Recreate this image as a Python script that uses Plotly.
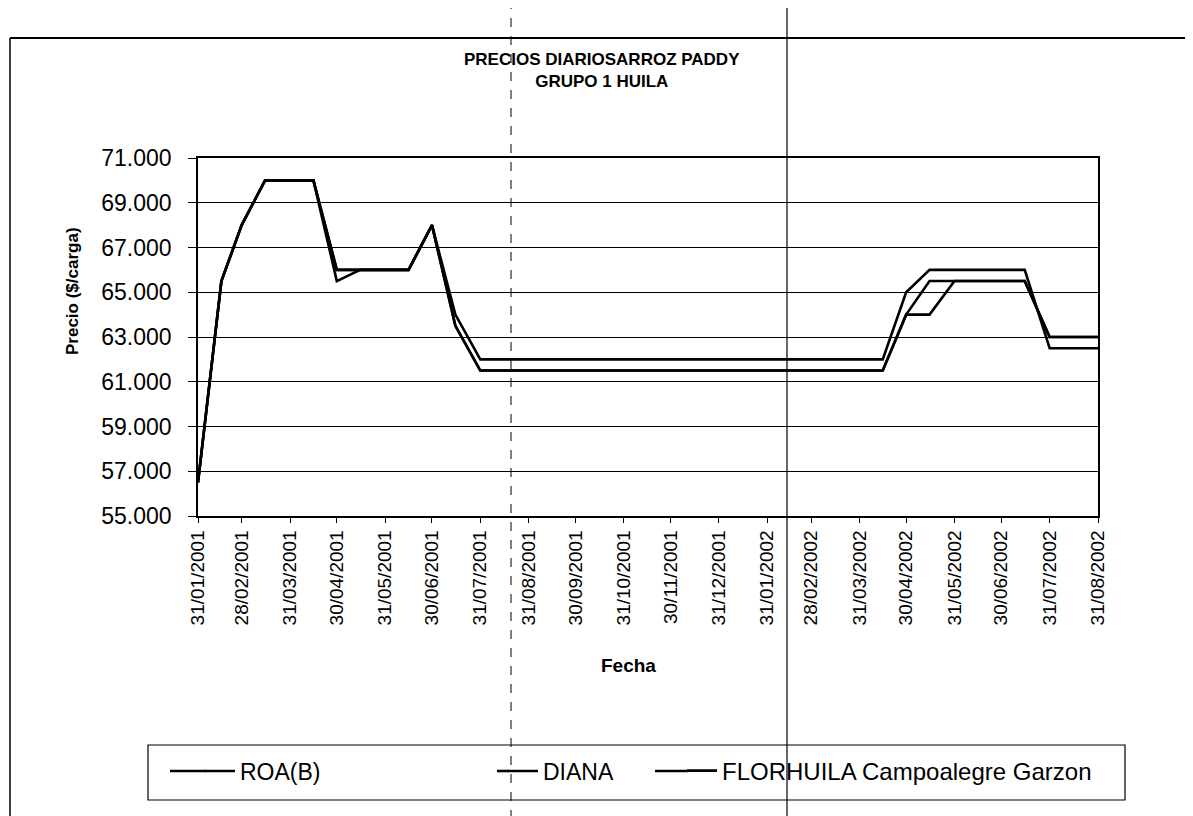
import plotly.graph_objects as go

# ---------------- data ----------------
dates = [
    "2001-01-31", "2001-02-15", "2001-02-28", "2001-03-15", "2001-03-31",
    "2001-04-15", "2001-04-30", "2001-05-15", "2001-05-31", "2001-06-15",
    "2001-06-30", "2001-07-15", "2001-07-31", "2001-08-15", "2001-08-31",
    "2001-09-15", "2001-09-30", "2001-10-15", "2001-10-31", "2001-11-15",
    "2001-11-30", "2001-12-15", "2001-12-31", "2002-01-15", "2002-01-31",
    "2002-02-15", "2002-02-28", "2002-03-15", "2002-03-31", "2002-04-15",
    "2002-04-30", "2002-05-15", "2002-05-31", "2002-06-15", "2002-06-30",
    "2002-07-15", "2002-07-31", "2002-08-15", "2002-08-31",
]

roa_b = [
    56500, 65500, 68000, 70000, 70000, 70000, 66000, 66000, 66000, 66000,
    68000, 64000, 62000, 62000, 62000, 62000, 62000, 62000, 62000, 62000,
    62000, 62000, 62000, 62000, 62000, 62000, 62000, 62000, 62000, 62000,
    65000, 66000, 66000, 66000, 66000, 66000, 62500, 62500, 62500,
]
diana = [
    56500, 65500, 68000, 70000, 70000, 70000, 65500, 66000, 66000, 66000,
    68000, 63500, 61500, 61500, 61500, 61500, 61500, 61500, 61500, 61500,
    61500, 61500, 61500, 61500, 61500, 61500, 61500, 61500, 61500, 61500,
    64000, 65500, 65500, 65500, 65500, 65500, 63000, 63000, 63000,
]
florhuila = [
    56500, 65500, 68000, 70000, 70000, 70000, 66000, 66000, 66000, 66000,
    68000, 63500, 61500, 61500, 61500, 61500, 61500, 61500, 61500, 61500,
    61500, 61500, 61500, 61500, 61500, 61500, 61500, 61500, 61500, 61500,
    64000, 64000, 65500, 65500, 65500, 65500, 63000, 63000, 63000,
]

series_names = ["ROA(B)", "DIANA", "FLORHUILA Campoalegre Garzon"]

tick_dates = [
    "2001-01-31", "2001-02-28", "2001-03-31", "2001-04-30", "2001-05-31",
    "2001-06-30", "2001-07-31", "2001-08-31", "2001-09-30", "2001-10-31",
    "2001-11-30", "2001-12-31", "2002-01-31", "2002-02-28", "2002-03-31",
    "2002-04-30", "2002-05-31", "2002-06-30", "2002-07-31", "2002-08-31",
]
tick_labels = [d[8:10] + "/" + d[5:7] + "/" + d[0:4] for d in tick_dates]

y_ticks = list(range(55000, 71001, 2000))
y_tick_labels = [f"{v // 1000}.{v % 1000:03d}" for v in y_ticks]

title_lines = ["PRECIOS DIARIOSARROZ PADDY", "GRUPO 1 HUILA"]

# ---------------- geometry (page pixels; page body has an 8px margin) ----------------
OFF = 8
W, H = 1193 - OFF, 816 - OFF
PL, PR, PT, PB = 198, 1098, 158, 516          # plot area in page pixels
ML, MT = PL - OFF, PT - OFF
MR, MB = W - (PR - OFF), H - (PB - OFF)
PW, PH = PR - PL, PB - PT


def px_x(px):
    return (px - PL) / PW


def px_y(py):
    return (PB - py) / PH


fig = go.Figure()
legend_ids = ["legend", "legend2", "legend3"]
for name, vals, lg in zip(series_names, [roa_b, diana, florhuila], legend_ids):
    fig.add_trace(go.Scatter(
        x=dates, y=vals, mode="lines", name=name,
        line=dict(color="black", width=2.6),
        legend=lg,
    ))

FONT = "Liberation Sans, Arial, sans-serif"
NARROW = "Liberation Sans Narrow, Arial Narrow, Liberation Sans, sans-serif"


def legend_cfg(x_px, size):
    return dict(
        orientation="h", yanchor="middle", xanchor="left",
        x=px_x(x_px), y=px_y(771),
        font=dict(family=FONT, size=size, color="black"),
        bgcolor="rgba(0,0,0,0)", borderwidth=0, itemwidth=30,
    )


fig.update_layout(
    width=W, height=H,
    margin=dict(l=ML, r=MR, t=MT, b=MB, pad=0),
    paper_bgcolor="white", plot_bgcolor="white",
    showlegend=True,
    legend=legend_cfg(200, 23),
    legend2=legend_cfg(503, 23),
    legend3=legend_cfg(682, 24),
    xaxis=dict(
        type="date",
        range=[tick_dates[0], tick_dates[-1]],
        tickmode="array", tickvals=tick_dates, ticktext=tick_labels,
        tickangle=-90,
        tickfont=dict(family=FONT, size=19, color="black"),
        showgrid=False, zeroline=False,
        showline=True, linecolor="black", linewidth=1.5, mirror=True,
        ticks="outside", ticklen=5, tickcolor="black",
    ),
    yaxis=dict(
        range=[55000, 71000],
        tickmode="array", tickvals=y_ticks, ticktext=y_tick_labels,
        tickfont=dict(family=FONT, size=23, color="black"),
        ticklabelstandoff=12,
        showgrid=True, gridcolor="black", gridwidth=1.3,
        zeroline=False,
        showline=True, linecolor="black", linewidth=1.5, mirror=True,
        ticks="outside", ticklen=8, tickcolor="black",
    ),
    font=dict(family=FONT, color="black"),
)

annotations = [
    dict(text="<b>" + title_lines[0] + "</b><br><b>" + title_lines[1] + "</b>",
         xref="paper", yref="paper", x=px_x(602), y=px_y(70),
         xanchor="center", yanchor="middle", showarrow=False,
         font=dict(family=NARROW, size=17, color="black")),
    dict(text="<b>Precio ($/carga)</b>", textangle=-90,
         xref="paper", yref="paper", x=px_x(72), y=px_y(291),
         xanchor="center", yanchor="middle", showarrow=False,
         font=dict(family=NARROW, size=17, color="black")),
    dict(text="<b>Fecha</b>",
         xref="paper", yref="paper", x=px_x(628), y=px_y(665),
         xanchor="center", yanchor="middle", showarrow=False,
         font=dict(family=NARROW, size=19, color="black")),
]
fig.update_layout(annotations=annotations)

# extensions of the legend line samples (the scan shows longer samples)
legend_sample_spans = [(170, 206), (497, 509), (655, 688)]

shapes = [
    # chart outer frame (top and left edges visible in the scan)
    dict(type="line", xref="paper", yref="paper",
         x0=px_x(10), x1=px_x(1193), y0=px_y(38), y1=px_y(38),
         line=dict(color="black", width=2)),
    dict(type="line", xref="paper", yref="paper",
         x0=px_x(10), x1=px_x(10), y0=px_y(38), y1=px_y(816),
         line=dict(color="black", width=1.5)),
    # legend box
    dict(type="rect", xref="paper", yref="paper",
         x0=px_x(148), x1=px_x(1125), y0=px_y(745), y1=px_y(800),
         line=dict(color="black", width=1.2)),
    # scan artefacts: fold line and dashed line
    dict(type="line", xref="paper", yref="paper",
         x0=px_x(787), x1=px_x(787), y0=px_y(0), y1=px_y(816),
         line=dict(color="black", width=1.2)),
    dict(type="line", xref="paper", yref="paper",
         x0=px_x(511), x1=px_x(511), y0=px_y(0), y1=px_y(816),
         line=dict(color="black", width=1, dash="dash")),
]
for a, b in legend_sample_spans:
    shapes.append(dict(type="line", xref="paper", yref="paper",
                       x0=px_x(a), x1=px_x(b), y0=px_y(771), y1=px_y(771),
                       line=dict(color="black", width=2.6)))
fig.update_layout(shapes=shapes)

fig.write_html("out.html")
